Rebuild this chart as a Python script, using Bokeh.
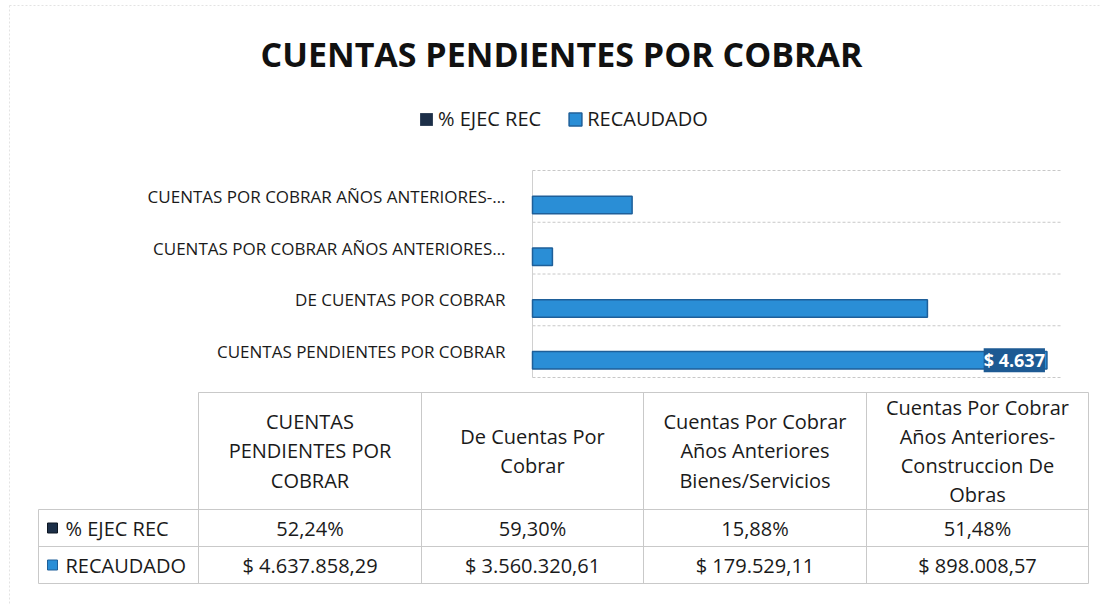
from bokeh.plotting import figure
from bokeh.models import Range1d, ColumnDataSource, Legend, LegendItem, LabelSet
from bokeh.transform import dodge
from bokeh.core.properties import value
from bokeh.embed import file_html
from bokeh.resources import INLINE

# ---------------- data ----------------
title_text = "CUENTAS PENDIENTES POR COBRAR"
categories = [
    "CUENTAS PENDIENTES POR COBRAR",
    "De Cuentas Por Cobrar",
    "Cuentas Por Cobrar Años Anteriores Bienes/Servicios",
    "Cuentas Por Cobrar Años Anteriores-Construccion De Obras",
]
axis_labels = [
    "CUENTAS PENDIENTES POR COBRAR",
    "DE CUENTAS POR COBRAR",
    "CUENTAS POR COBRAR AÑOS ANTERIORES…",
    "CUENTAS POR COBRAR AÑOS ANTERIORES-…",
]
header_labels = [
    "CUENTAS\nPENDIENTES POR\nCOBRAR",
    "De Cuentas Por\nCobrar",
    "Cuentas Por Cobrar\nAños Anteriores\nBienes/Servicios",
    "Cuentas Por Cobrar\nAños Anteriores-\nConstruccion De\nObras",
]
series_names = ["% EJEC REC", "RECAUDADO"]
pct_ejec = [52.24, 59.30, 15.88, 51.48]
recaudado = [4637858.29, 3560320.61, 179529.11, 898008.57]
value_axis_max = 4.76e6

# ---------------- style / layout ----------------
NAVY = "#1c2f48"
BLUE = "#2a8ed6"
BLUE_EDGE = "#1e5f99"
FONT = "Open Sans"
TXT = "#1a1a1a"
W, H = 1100, 605
PLOT_L, PLOT_R = 532, 1060          # bar area, pixels
PLOT_TOP, PLOT_BOTTOM = 170, 377


def fmt_money(v):
    s = f"{v:,.2f}".replace(",", "X").replace(".", ",").replace("X", ".")
    return "$ " + s


def fmt_pct(v):
    return f"{v:.2f}%".replace(".", ",")


def fmt_thousands(v):
    return "$ " + f"{int(v // 1000):,}".replace(",", ".")


n = len(categories)
# value range mapped so that 0 .. value_axis_max spans the bar area
per_px = value_axis_max / (PLOT_R - PLOT_L)
val_range = Range1d(-PLOT_L * per_px, -PLOT_L * per_px + W * per_px)
# category index range: band boundaries 0..n span PLOT_BOTTOM..PLOT_TOP
band_px = (PLOT_BOTTOM - PLOT_TOP) / n
cat_end = PLOT_BOTTOM / band_px
cat_range = Range1d(cat_end - H / band_px, cat_end)

p = figure(width=W, height=H, x_range=Range1d(0, W), y_range=Range1d(H, 0),
           x_axis_location=None, y_axis_location=None, min_border=0,
           output_backend="svg", toolbar_location=None)
p.extra_x_ranges = {"val": val_range}
p.extra_y_ranges = {"cat": cat_range}
p.grid.visible = False
p.outline_line_color = None

# faint chart-area border (left / top)
p.segment(x0=[9, 9], y0=[5, 5], x1=[9, W], y1=[H, 5], line_color="#e3e3e3",
          line_dash="2 2", line_width=1)

# ---------------- bar chart ----------------
src = ColumnDataSource(data=dict(
    pos=[i + 0.5 for i in range(n)],
    label=axis_labels,
    pct=[v / 100 for v in pct_ejec],
    rec=recaudado,
))

# category separators and the value-axis line
bounds = list(range(n + 1))
p.segment(x0=[0] * len(bounds), x1=[value_axis_max] * len(bounds), y0=bounds, y1=bounds,
          x_range_name="val", y_range_name="cat",
          line_color="#c8c8c8", line_dash="3 2", line_width=1)
p.segment(x0=[0], x1=[0], y0=[0], y1=[n], x_range_name="val", y_range_name="cat",
          line_color="#d0d0d0", line_width=1)

r1 = p.hbar(y=dodge("pos", 0.166), left=0, right="pct", height=0.335, source=src,
            x_range_name="val", y_range_name="cat",
            fill_color=NAVY, line_color=None)
r2 = p.hbar(y=dodge("pos", -0.166), left=0, right="rec", height=0.335, source=src,
            x_range_name="val", y_range_name="cat",
            fill_color=BLUE, line_color=BLUE_EDGE, line_width=1.5)

# category labels (right-aligned left of the bars)
p.text(x=0, y="pos", text="label", source=src, x_range_name="val", y_range_name="cat",
       x_offset=-27, text_align="right", text_baseline="middle",
       text_font=value(FONT), text_font_size=value("17px"), text_color=TXT)

lab_src = ColumnDataSource(data=dict(
    pos=[0.5], x=[recaudado[0]], t=[fmt_thousands(recaudado[0])]))
p.add_layout(LabelSet(x="x", y=dodge("pos", -0.166), text="t", source=lab_src,
                      x_range_name="val", y_range_name="cat",
                      text_align="right", text_baseline="middle",
                      x_offset=-2, text_color="white",
                      text_font=value(FONT), text_font_style="bold",
                      text_font_size=value("18px"),
                      background_fill_color="#1d5a93"))

# title
p.text(x=[561], y=[53], text=[title_text], text_align="center", text_baseline="middle",
       text_font=value(FONT), text_font_style="bold", text_font_size=value("34px"),
       text_color="#111111")

legend = Legend(items=[LegendItem(label=series_names[0], renderers=[r1]),
                       LegendItem(label=series_names[1], renderers=[r2])],
                orientation="horizontal", location=(418, H - 132),
                glyph_width=16, glyph_height=16, label_standoff=4, spacing=26,
                padding=0, margin=0, border_line_color=None,
                background_fill_alpha=0,
                label_text_font=FONT, label_text_font_size="20px",
                label_text_color=TXT)
p.add_layout(legend)

# ---------------- data table ----------------
col_edges = [198, 421, 643, 866, 1088]
row_edges = [392, 509, 546, 583]
label_left = 38
x0s, y0s, x1s, y1s = [], [], [], []
x0s.append(col_edges[0]); x1s.append(col_edges[-1]); y0s.append(row_edges[0]); y1s.append(row_edges[0])
for yy in row_edges[1:]:
    x0s.append(label_left); x1s.append(col_edges[-1]); y0s.append(yy); y1s.append(yy)
x0s.append(label_left); x1s.append(label_left); y0s.append(row_edges[1]); y1s.append(row_edges[-1])
for xx in col_edges:
    x0s.append(xx); x1s.append(xx); y0s.append(row_edges[0]); y1s.append(row_edges[-1])
p.segment(x0=x0s, y0=y0s, x1=x1s, y1=y1s, line_color="#c9c9c9", line_width=1)

centers = [(a + b) / 2 for a, b in zip(col_edges[:-1], col_edges[1:])]
row_mid = [(a + b) / 2 for a, b in zip(row_edges[:-1], row_edges[1:])]

p.text(x=centers, y=[row_mid[0]] * len(centers), text=header_labels,
       text_align="center", text_baseline="middle", text_font=value(FONT),
       text_font_size=value("20px"), text_line_height=1.08, text_color=TXT)
p.text(x=centers, y=[row_mid[1]] * len(centers), text=[fmt_pct(v) for v in pct_ejec],
       text_align="center", text_baseline="middle", text_font=value(FONT),
       text_font_size=value("20px"), text_color=TXT)
p.text(x=centers, y=[row_mid[2]] * len(centers), text=[fmt_money(v) for v in recaudado],
       text_align="center", text_baseline="middle", text_font=value(FONT),
       text_font_size=value("20px"), text_color=TXT)

p.scatter(x=[52, 52], y=row_mid[1:], marker="square", size=10,
          fill_color=[NAVY, BLUE], line_color=["#0d1622", BLUE_EDGE])
p.text(x=[65, 65], y=row_mid[1:], text=series_names, text_align="left",
       text_baseline="middle", text_font=value(FONT), text_font_size=value("20px"),
       text_color=TXT)

open("out.html", "w").write(file_html(p, INLINE))
